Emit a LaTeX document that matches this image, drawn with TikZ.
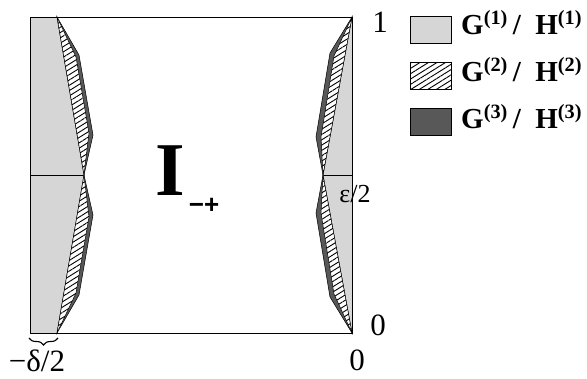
\documentclass[tikz,border=0pt]{standalone}
\usepackage{fontspec}
\setmainfont{Liberation Serif}
\newfontfamily\subfont{Liberation Sans}
\usetikzlibrary{patterns.meta,decorations.pathreplacing,positioning}
\definecolor{lgray}{RGB}{214,214,214}
\definecolor{dgray}{RGB}{88,88,88}

\begin{document}
\begin{tikzpicture}[x=1pt,y=-1pt,
  gh1/.style={fill=lgray, draw=black, line width=0.5pt},
  gh2/.style={preaction={fill=white},
              pattern={Lines[angle=32,distance=4.5pt,line width=0.9pt]},
              draw=black, line width=0.5pt},
  gh3/.style={fill=dgray, draw=black, line width=0.5pt},
  key/.style={minimum width=41pt, minimum height=27pt, inner sep=0pt},
  leg/.style={font=\fontsize{29}{29}\selectfont\bfseries, inner sep=0pt},
  num/.style={font=\fontsize{31}{31}\selectfont, inner sep=0pt},
  lbl/.style={font=\fontsize{26}{26}\selectfont, inner sep=0pt}
]
\useasboundingbox (0,0) rectangle (587,378);

% corners of the square
\coordinate (tl) at (30,17);
\coordinate (br) at (352,333);

% left strip
\fill[lgray] (30,17) -- (57,17) -- (84,175) -- (57,333) -- (30,333) -- cycle;
\draw[line width=0.5pt] (30,175) -- (84,175);
\draw[gh3] (57,17) -- (79,55) -- (93,135) -- (84,175) -- cycle;
\draw[gh2] (57,17) -- (76,57) -- (89,133) -- (84,175) -- cycle;
\draw[gh3] (84,175) -- (93,215) -- (79,295) -- (57,333) -- cycle;
\draw[gh2] (84,175) -- (89,217) -- (76,293) -- (57,333) -- cycle;

% right strip
\fill[lgray] (352,17) -- (323,175) -- (352,333) -- cycle;
\draw[line width=0.5pt] (323,175) -- (352,175);
\draw[gh3] (352,17) -- (330,53) -- (316,137) -- (323,175) -- cycle;
\draw[gh2] (352,17) -- (334,56) -- (321,137) -- (323,175) -- cycle;
\draw[gh3] (323,175) -- (316,213) -- (330,297) -- (352,333) -- cycle;
\draw[gh2] (323,175) -- (321,213) -- (334,294) -- (352,333) -- cycle;

% square
\draw[line width=0.9pt] (tl) rectangle (br);

% brace under the left strip
\draw[line width=1.1pt, decorate, decoration={brace,mirror,amplitude=7pt}]
  (29,338) -- (58,338);

% axis labels
\node[num] (one)  at (380,22)  {1};
\node[lbl] (half) at (355,194) {ε/2};
\node[num] (zr)   at (378,325) {0};
\node[num] (zb)   at (357,360) {0};
\node[num] (mdel) at (37,361)  {−δ/2};

% region name
\node[font=\fontsize{76}{76}\selectfont\bfseries, inner sep=0pt] (bigI) at (170,171) {I};
\node[font=\fontsize{26}{26}\selectfont\subfont\bfseries, inner sep=0pt] (sub) at (204,206) {−+};

% legend
\node[key, gh1] (key1) at (430.5,29.5) {};
\node[key, gh2] (key2) at (430.5,75.5) {};
\node[key, gh3] (key3) at (430.5,122)  {};
\node[leg, anchor=base west] (txt1) at (461,34)  {G\textsuperscript{(1)}\,/\enspace H\textsuperscript{(1)}};
\node[leg, anchor=base west] (txt2) at (461,81)  {G\textsuperscript{(2)}\,/\enspace H\textsuperscript{(2)}};
\node[leg, anchor=base west] (txt3) at (461,128) {G\textsuperscript{(3)}\,/\enspace H\textsuperscript{(3)}};

\end{tikzpicture}
\end{document}
